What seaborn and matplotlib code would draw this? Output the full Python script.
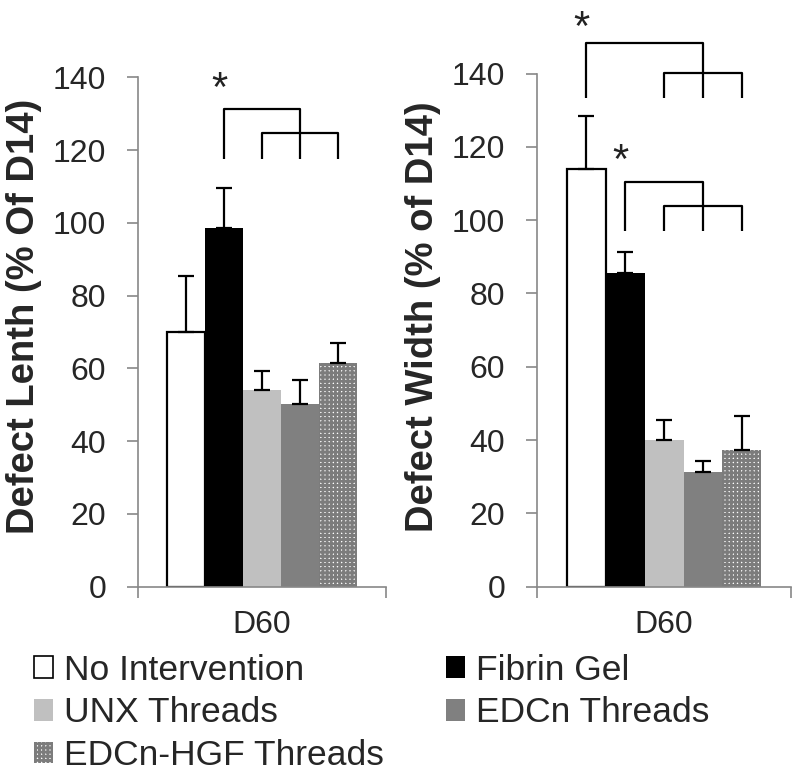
import pandas as pd
import seaborn as sns
import matplotlib.pyplot as plt
from matplotlib.patches import Patch

# values
groups = ["No Intervention", "Fibrin Gel", "UNX Threads", "EDCn Threads", "EDCn-HGF Threads"]
colors = ["#ffffff", "#000000", "#c0c0c0", "#808080", "#ffffff"]
day = "D60"

length_mean = [70.0, 98.5, 54.0, 50.3, 61.4]
length_err = [15.4, 11.1, 5.3, 6.5, 5.5]
width_mean = [113.9, 85.5, 40.0, 31.4, 37.3]
width_err = [14.6, 5.9, 5.5, 2.9, 9.3]

# significance brackets: (start bar, middle bar, left, right, top, low, drop, star y)
left_brackets = [(1, 3, 2, 4, 131.2, 124.6, 117.5, 140.0)]
right_brackets = [(0, 3, 2, 4, 148.4, 140.1, 133.3, 155.5),
                  (1, 3, 2, 4, 110.5, 103.9, 97.1, 119.2)]

sns.set_style("white")
plt.rcParams["font.family"] = ["Liberation Sans", "DejaVu Sans"]
plt.rcParams["hatch.linewidth"] = 2.0

fig = plt.figure(figsize=(8, 7.78), dpi=100)
ax1 = fig.add_axes([0.1725, 0.2459, 0.31, 0.6548])
ax2 = fig.add_axes([0.6716, 0.2459, 0.317, 0.6596])

palette = dict(zip(groups, colors))
hatch_col = "#7c7c7c"


def draw_panel(ax, means, errs, ylabel, label_x, brackets):
    df = pd.DataFrame({"day": [day] * len(groups), "group": groups, "value": means})
    sns.barplot(data=df, x="day", y="value", hue="group", hue_order=groups,
                palette=palette, width=0.766, errorbar=None, saturation=1,
                legend=False, ax=ax)
    bars = ax.patches[:len(groups)]
    for b in bars:
        b.set_linewidth(0)
    bars[0].set_edgecolor("black")
    bars[0].set_linewidth(1.6)
    bars[4].set_edgecolor(hatch_col)
    bars[4].set_hatch("++++")

    xs = [b.get_x() + b.get_width() / 2 for b in bars]
    ax.errorbar(xs, means, yerr=[[0] * len(errs), errs], fmt="none",
                ecolor="black", elinewidth=1.6, capsize=5.5, capthick=1.6)

    for s, m, l, r, top, low, drop, star in brackets:
        kw = dict(color="black", lw=1.6, clip_on=False, solid_capstyle="butt")
        ax.plot([xs[s], xs[s], xs[m], xs[m]], [drop, top, top, drop], **kw)
        ax.plot([xs[l], xs[l], xs[r], xs[r]], [drop, low, low, drop], **kw)
        ax.annotate("*", xy=(xs[s] - 0.02, star), xytext=(0, -17), textcoords="offset points",
                    ha="center", va="baseline", fontsize=30, color="#222222",
                    annotation_clip=False)

    ax.set_ylim(0, 140)
    ax.set_xlim(-0.5, 0.5)
    ax.set_yticks(range(0, 141, 20))
    ax.set_xticks([0])
    ax.set_xticklabels([day])
    ax.set_xticks([-0.5, 0.5], minor=True)
    ax.tick_params(axis="y", direction="out", length=8, width=1.2, color="#888888",
                   labelsize=23, pad=15, left=True)
    ax.tick_params(axis="x", which="major", length=0, labelsize=23, pad=17)
    ax.tick_params(axis="x", which="minor", direction="out", length=8, width=1.2,
                   color="#888888", bottom=True)
    for side in ["top", "right"]:
        ax.spines[side].set_visible(False)
    for side in ["left", "bottom"]:
        ax.spines[side].set_color("#888888")
        ax.spines[side].set_linewidth(1.2)
    ax.set_xlabel("")
    ax.set_ylabel(ylabel, fontsize=27.5, fontweight="bold")
    ax.yaxis.set_label_coords(label_x, 0.593, transform=fig.transFigure)


draw_panel(ax1, length_mean, length_err, "Defect Lenth (% Of D14)", 0.0525, left_brackets)
draw_panel(ax2, width_mean, width_err, "Defect Width (% of D14)", 0.551, right_brackets)

handles = []
for g, c in zip(groups, colors):
    if g == "EDCn-HGF Threads":
        handles.append(Patch(facecolor="white", edgecolor=hatch_col, hatch="++++", lw=0, label=g))
    elif g == "No Intervention":
        handles.append(Patch(facecolor=c, edgecolor="black", lw=1.2, label=g))
    else:
        handles.append(Patch(facecolor=c, edgecolor=c, lw=0, label=g))
order = [0, 2, 4, 1, 3]
fig.legend([handles[i] for i in order], [groups[i] for i in order],
           ncol=2, frameon=False, loc="upper left", bbox_to_anchor=(0.042, 0.16),
           fontsize=25.5, handlelength=0.55, handleheight=0.55, handletextpad=0.3,
           labelspacing=0.28, columnspacing=1.75, borderaxespad=0, borderpad=0)

fig.savefig("out.png", dpi=100)
